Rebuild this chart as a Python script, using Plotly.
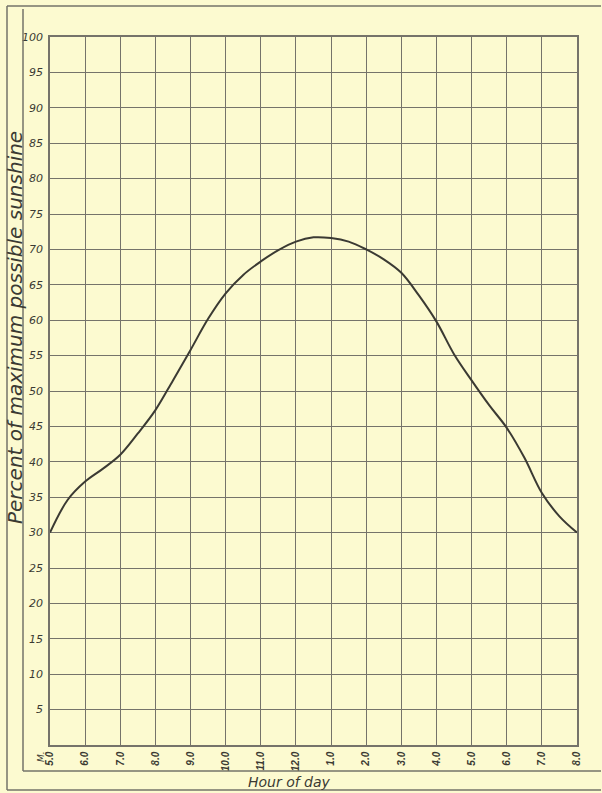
import plotly.graph_objects as go

# Data
hours = [5, 5.5, 6, 6.5, 7, 7.5, 8, 8.5, 9, 9.5, 10, 10.5, 11, 11.5, 12, 12.5,
         13, 13.5, 14, 14.5, 15, 15.5, 16, 16.5, 17, 17.5, 18, 18.5, 19, 19.5, 20]
percent = [30.0, 34.6, 37.2, 39.0, 41.0, 44.0, 47.3, 51.5, 55.8, 60.2, 63.8, 66.4,
           68.3, 69.9, 71.1, 71.7, 71.6, 71.1, 70.0, 68.6, 66.7, 63.5, 59.8, 55.2,
           51.5, 48.0, 44.8, 40.6, 35.6, 32.3, 30.0]

tick_hours = list(range(5, 21))
tick_labels = ["5.0", "6.0", "7.0", "8.0", "9.0", "10.0", "11.0", "12.0",
               "1.0", "2.0", "3.0", "4.0", "5.0", "6.0", "7.0", "8.0"]
y_ticks = list(range(5, 101, 5))

W, H = 602, 793
L, R, T, B = 50, 577, 37, 745
BG = "#fcfad0"
GRID = "#75736a"
INK = "#3b3a33"

def px(x):
    return (x - L) / (R - L)

def py(y):
    return (B - y) / (B - T)

fig = go.Figure()
fig.add_trace(go.Scatter(
    x=hours, y=percent, mode="lines",
    line=dict(color=INK, width=2, shape="spline", smoothing=1.0),
    hoverinfo="skip", showlegend=False))

fig.update_xaxes(
    range=[5, 20], tickmode="array", tickvals=tick_hours, ticktext=tick_labels,
    tickangle=-90, showgrid=True, gridcolor=GRID, gridwidth=1.3,
    showline=True, linecolor=GRID, linewidth=1.5, mirror=True, zeroline=False,
    ticks="", ticklabelstandoff=1,
    tickfont=dict(family="Liberation Sans Narrow, Liberation Sans", size=10, color=INK,
                  style="italic", weight="bold"))
fig.update_yaxes(
    range=[0, 100], tickmode="array", tickvals=y_ticks,
    showgrid=True, gridcolor=GRID, gridwidth=1.3,
    showline=True, linecolor=GRID, linewidth=1.5, mirror=True, zeroline=False,
    ticks="", ticklabelstandoff=3,
    tickfont=dict(family="DejaVu Sans", size=11, color=INK, style="italic"))

line_style = dict(color=GRID, width=1.5)
shapes = [
    dict(type="line", xref="paper", yref="paper", x0=px(7), x1=px(7), y0=py(6), y1=py(790), line=line_style),
    dict(type="line", xref="paper", yref="paper", x0=px(7), x1=px(601), y0=py(6), y1=py(6), line=line_style),
    dict(type="line", xref="paper", yref="paper", x0=px(23), x1=px(23), y0=py(9), y1=py(771), line=line_style),
    dict(type="line", xref="paper", yref="paper", x0=px(23), x1=px(601), y0=py(771), y1=py(771), line=line_style),
    dict(type="line", xref="paper", yref="paper", x0=px(7), x1=px(601), y0=py(790), y1=py(790), line=line_style),
]

annotations = [
    dict(text="Hour of day", xref="paper", yref="paper", x=px(289), y=py(782),
         showarrow=False, xanchor="center", yanchor="middle",
         font=dict(family="DejaVu Sans", size=14, color=INK, style="italic")),
    dict(text="Percent of maximum possible sunshine", xref="paper", yref="paper",
         x=px(15), y=py(328), textangle=-90, showarrow=False,
         xanchor="center", yanchor="middle",
         font=dict(family="DejaVu Sans", size=20, color=INK, style="italic")),
    dict(text="M.", xref="paper", yref="paper", x=px(41), y=py(757), textangle=-90,
         showarrow=False, xanchor="center", yanchor="middle",
         font=dict(family="DejaVu Sans", size=9, color=INK, style="italic")),
]

fig.update_layout(
    width=W, height=H,
    margin=dict(l=L, r=W - R, t=T, b=H - B),
    paper_bgcolor=BG, plot_bgcolor=BG,
    shapes=shapes, annotations=annotations,
    showlegend=False)

fig.write_html("out.html", config={"displayModeBar": False},
               post_script="document.body.style.margin='0';document.body.style.overflow='hidden';document.body.style.background='%s';" % BG)
